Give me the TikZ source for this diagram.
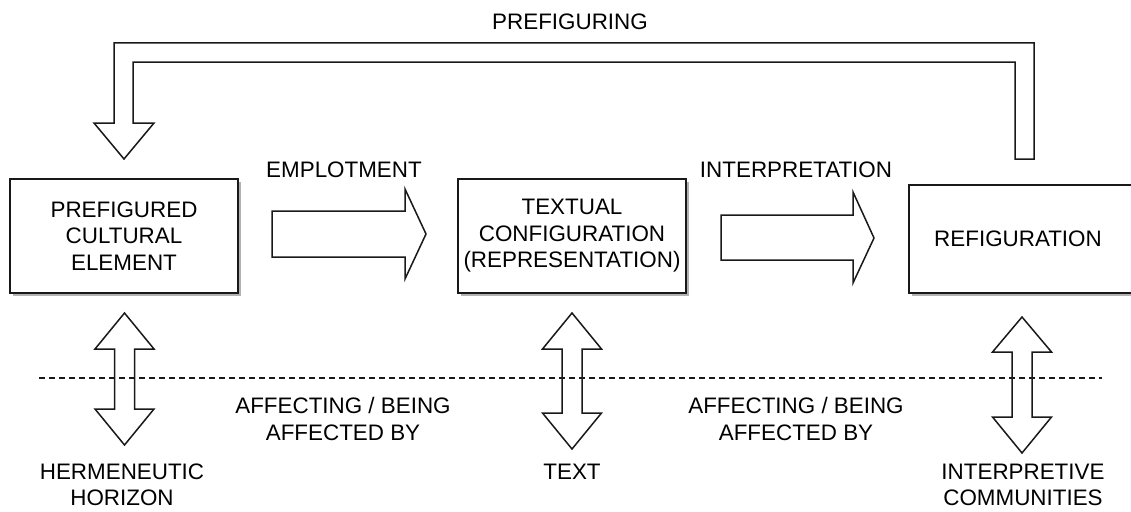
\documentclass[tikz,border=0pt]{standalone}
\usepackage{fontspec}
\setmainfont{Liberation Sans}
\usetikzlibrary{shadows}
\newcommand\vdbl[5]{%
  \draw[barrow] (#1,#2) -- (#1+29.5,#3) -- (#1+10,#3) -- (#1+10,#4) -- (#1+29.5,#4) -- (#1,#5) -- (#1-29.5,#4) -- (#1-10,#4) -- (#1-10,#3) -- (#1-29.5,#3) -- cycle;}
\begin{document}
\begin{tikzpicture}[x=1pt,y=-1pt,line width=1.5pt,
  lbl/.style={align=center,inner sep=0pt,font=\fontsize{22.4}{26.5}\selectfont},
  box/.style={lbl,draw=black!90,fill=white,drop shadow={shadow xshift=3pt,shadow yshift=-3pt,fill=black!30,opacity=1}},
  barrow/.style={draw=black!90,fill=white,line join=miter},
  sep/.style={draw=black!90,line width=1.2pt,dash pattern=on 6pt off 4pt}]
\path[use as bounding box] (0,0) rectangle (1131,511);
\clip (0,0) rectangle (1131,511);
% boxes
\node[box,minimum width=228pt,minimum height=114pt] (pce) at (124,236) {PREFIGURED\\CULTURAL\\ELEMENT};
\node[box,minimum width=228pt,minimum height=114pt] (tc) at (572,236) {TEXTUAL\\CONFIGURATION\\(REPRESENTATION)};
\node[box,minimum width=226pt,minimum height=108pt,text width=210pt] (ref) at (1022,239) {\hspace*{-8pt}REFIGURATION};
% block arrows
\draw[barrow] (1034,159) -- (1034,43) -- (114,43) -- (114,123) -- (94,123) -- (124,159) -- (154,123) -- (133,123) -- (133,62) -- (1015,62) -- (1015,159) -- cycle;
\draw[barrow] (272,211) -- (405,211) -- (405,189) -- (426,234) -- (405,279) -- (405,257) -- (272,257) -- cycle;
\draw[barrow] (721,215) -- (853,215) -- (853,192) -- (874,238) -- (853,283) -- (853,260) -- (721,260) -- cycle;
\vdbl{124.5}{313}{349}{409}{445}
\vdbl{572}{313}{349}{413}{449}
\vdbl{1022}{317}{352}{417}{453}
% separator
\draw[sep] (39,378) -- (1102,378);
% labels
\node[lbl] (pref) at (570,22) {PREFIGURING};
\node[lbl] (empl) at (344,170) {EMPLOTMENT};
\node[lbl] (interp) at (796,170) {INTERPRETATION};
\node[lbl] (aff1) at (343,419) {AFFECTING / BEING\\AFFECTED BY};
\node[lbl] (aff2) at (796,419) {AFFECTING / BEING\\AFFECTED BY};
\node[lbl] (herm) at (122,485) {HERMENEUTIC\\HORIZON};
\node[lbl] (text) at (572,472) {TEXT};
\node[lbl] (icom) at (1023,485) {INTERPRETIVE\\COMMUNITIES};
\end{tikzpicture}
\end{document}
